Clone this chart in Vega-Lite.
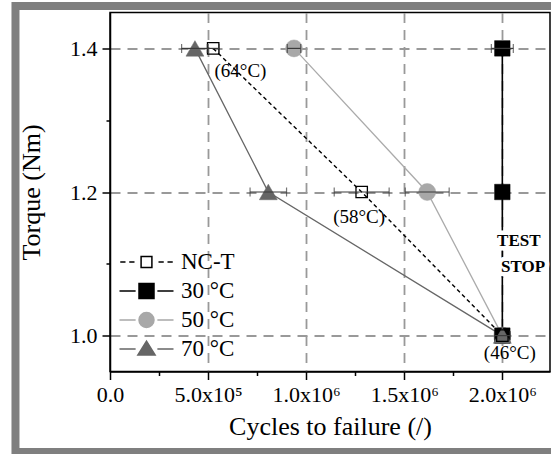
{
  "$schema": "https://vega.github.io/schema/vega-lite/v6.json",
  "width": 440,
  "height": 359,
  "autosize": "none",
  "padding": {"left": 110, "top": 12.5, "right": 1, "bottom": 82.5},
  "background": "white",
  "datasets": {
    "points": [
      {"series": "NC-T", "torque": 1.4, "cycles": 526000, "lo": 496000, "hi": 556000},
      {"series": "NC-T", "torque": 1.2, "cycles": 1283000, "lo": 1143000, "hi": 1423000},
      {"series": "NC-T", "torque": 1.0, "cycles": 2000000, "lo": 1960000, "hi": 2040000},
      {"series": "30 °C", "torque": 1.4, "cycles": 2000000, "lo": 1944000, "hi": 2056000},
      {"series": "30 °C", "torque": 1.2, "cycles": 2000000, "lo": 2000000, "hi": 2000000},
      {"series": "30 °C", "torque": 1.0, "cycles": 2000000, "lo": 2000000, "hi": 2000000},
      {"series": "50 °C", "torque": 1.4, "cycles": 938000, "lo": 904000, "hi": 972000},
      {"series": "50 °C", "torque": 1.2, "cycles": 1617000, "lo": 1505000, "hi": 1729000},
      {"series": "50 °C", "torque": 1.0, "cycles": 2000000, "lo": 2000000, "hi": 2000000},
      {"series": "70 °C", "torque": 1.4, "cycles": 433000, "lo": 365000, "hi": 501000},
      {"series": "70 °C", "torque": 1.2, "cycles": 807000, "lo": 714000, "hi": 900000},
      {"series": "70 °C", "torque": 1.0, "cycles": 2000000, "lo": 2000000, "hi": 2000000}
    ],
    "notes": [
      {"text": "(64°C)", "cycles": 665000, "torque": 1.3685, "kind": "temp"},
      {"text": "(58°C)", "cycles": 1270000, "torque": 1.1652, "kind": "temp"},
      {"text": "(46°C)", "cycles": 2038000, "torque": 0.9753, "kind": "temp"},
      {"text": "TEST", "cycles": 2084000, "torque": 1.1322, "kind": "stop"},
      {"text": "STOP", "cycles": 2106000, "torque": 1.096, "kind": "stop"}
    ],
    "frame": [
      {"x1": -481800, "x2": 2273700, "y1": 1.4591, "y2": 0.8379}
    ]
  },
  "data": {"name": "points"},
  "encoding": {
    "x": {
      "field": "cycles", "type": "quantitative", "title": "Cycles to failure (/)",
      "scale": {"domain": [0, 2243000], "nice": false, "zero": false},
      "axis": {
        "values": [0, 250000, 500000, 750000, 1000000, 1250000, 1500000, 1750000, 2000000],
        "labelExpr": "datum.value === 0 ? '0.0' : datum.value === 500000 ? '5.0x10⁵' : datum.value === 1000000 ? '1.0x10⁶' : datum.value === 1500000 ? '1.5x10⁶' : datum.value === 2000000 ? '2.0x10⁶' : ''",
        "tickSize": {"condition": {"test": "datum.value % 500000 === 0", "value": 8}, "value": 4},
        "gridOpacity": {"condition": {"test": "datum.value % 500000 === 0 && datum.value > 0", "value": 1}, "value": 0},
        "labelPadding": 5,
        "titlePadding": 8,
        "labelOverlap": false,
        "labelFlush": false
      }
    },
    "y": {
      "field": "torque", "type": "quantitative", "title": "Torque (Nm)",
      "scale": {"domain": [0.95, 1.45], "nice": false, "zero": false},
      "axis": {
        "values": [1.0, 1.1, 1.2, 1.3, 1.4],
        "labelExpr": "round(datum.value * 10) % 2 === 0 ? format(datum.value, '.1f') : ''",
        "tickSize": {"condition": {"test": "round(datum.value * 10) % 2 === 0", "value": 8}, "value": 4},
        "gridOpacity": {"condition": {"test": "round(datum.value * 10) % 2 === 0", "value": 1}, "value": 0},
        "labelPadding": 5,
        "titlePadding": 25,
        "labelOverlap": false,
        "labelFlush": false
      }
    }
  },
  "layer": [
    {
      "transform": [{"filter": "datum.series === '70 °C'"}],
      "mark": {"type": "line", "color": "#666666", "strokeWidth": 1.3},
      "encoding": {"order": {"field": "torque", "sort": "descending"}}
    },
    {
      "transform": [{"filter": "datum.series === '50 °C'"}],
      "mark": {"type": "line", "color": "#ababab", "strokeWidth": 1.3},
      "encoding": {"order": {"field": "torque", "sort": "descending"}}
    },
    {
      "transform": [{"filter": "datum.series === 'NC-T'"}],
      "mark": {"type": "line", "color": "black", "strokeWidth": 1.4, "strokeDash": [4, 3]},
      "encoding": {"order": {"field": "torque", "sort": "descending"}}
    },
    {
      "transform": [{"filter": "datum.series === '30 °C'"}],
      "mark": {"type": "line", "color": "black", "strokeWidth": 1.6},
      "encoding": {"order": {"field": "torque", "sort": "descending"}}
    },
    {
      "transform": [{"filter": "datum.series === '50 °C'"}],
      "mark": {"type": "point", "shape": "circle", "size": 289, "filled": true, "fill": "#a8a8a8", "stroke": "#a8a8a8", "strokeWidth": 0.5, "opacity": 1}
    },
    {
      "transform": [{"filter": "datum.series === '30 °C'"}],
      "mark": {"type": "point", "shape": "square", "size": 240, "filled": true, "fill": "black", "stroke": "black", "strokeWidth": 0.5, "opacity": 1}
    },
    {
      "transform": [{"filter": "datum.series === '70 °C'"}],
      "mark": {"type": "point", "shape": "triangle-up", "size": 320, "filled": true, "fill": "#666666", "stroke": "#666666", "strokeWidth": 0.5, "opacity": 1}
    },
    {
      "transform": [{"filter": "datum.series === 'NC-T'"}],
      "mark": {"type": "point", "shape": "square", "size": 130, "filled": false, "stroke": "black", "strokeWidth": 1.3, "opacity": 1}
    },
    {
      "transform": [{"filter": "datum.hi > datum.lo"}],
      "mark": {"type": "rule", "color": "#3a3a3a", "strokeWidth": 1.2},
      "encoding": {
        "x": {"field": "lo", "type": "quantitative", "title": "Cycles to failure (/)"},
        "x2": {"field": "hi"}
      }
    },
    {
      "transform": [{"filter": "datum.hi > datum.lo"}],
      "mark": {"type": "tick", "orient": "vertical", "color": "#3a3a3a", "size": 9, "thickness": 1.2},
      "encoding": {"x": {"field": "lo", "type": "quantitative", "title": "Cycles to failure (/)"}}
    },
    {
      "transform": [{"filter": "datum.hi > datum.lo"}],
      "mark": {"type": "tick", "orient": "vertical", "color": "#3a3a3a", "size": 9, "thickness": 1.2},
      "encoding": {"x": {"field": "hi", "type": "quantitative", "title": "Cycles to failure (/)"}}
    },
    {
      "data": {"name": "notes"},
      "transform": [{"filter": "datum.kind === 'temp'"}],
      "mark": {"type": "text", "font": "Liberation Serif", "fontSize": 19, "color": "black", "align": "center", "baseline": "middle"},
      "encoding": {"text": {"field": "text"}}
    },
    {
      "data": {"name": "notes"},
      "transform": [{"filter": "datum.kind === 'stop'"}],
      "mark": {"type": "text", "font": "Liberation Serif", "fontSize": 17, "fontWeight": "bold", "fill": "white", "stroke": "white", "strokeWidth": 9, "strokeJoin": "round", "align": "center", "baseline": "middle"},
      "encoding": {"text": {"field": "text"}}
    },
    {
      "data": {"name": "notes"},
      "transform": [{"filter": "datum.kind === 'stop'"}],
      "mark": {"type": "text", "font": "Liberation Serif", "fontSize": 17, "fontWeight": "bold", "color": "black", "align": "center", "baseline": "middle"},
      "encoding": {"text": {"field": "text"}}
    },
    {
      "data": {"name": "frame"},
      "mark": {"type": "rect", "fill": "transparent", "stroke": "#7f7f7f", "strokeWidth": 8, "clip": false},
      "encoding": {
        "x": {"field": "x1", "type": "quantitative", "title": "Cycles to failure (/)"},
        "x2": {"field": "x2"},
        "y": {"field": "y1", "type": "quantitative", "title": "Torque (Nm)"},
        "y2": {"field": "y2"}
      }
    },
    {
      "transform": [{"filter": "false"}],
      "mark": {"type": "point", "filled": true, "size": 225, "strokeWidth": 1.5, "opacity": 1},
      "encoding": {
        "shape": {
          "field": "series", "type": "nominal",
          "scale": {
            "domain": ["NC-T", "30 °C", "50 °C", "70 °C"],
            "range": [
              "M-3.5,0H-2.8M-2.3,0H-1.6M1.6,0H2.3M2.8,0H3.5M-0.72,-0.72H0.72V0.72H-0.72Z",
              "M-3.6,0H-1.45M1.45,0H3.6M-1,-1H1V1H-1Z",
              "M-3.6,0H-1.45M1.45,0H3.6M1,0A1,1 0 1,1 -1,0A1,1 0 1,1 1,0Z",
              "M-3.6,0H-1.45M1.45,0H3.6M0,-1.05L1.15,0.8H-1.15Z"
            ]
          },
          "legend": {"title": null, "orient": "none", "legendX": 25, "legendY": 238, "symbolSize": 225, "labelOffset": 23, "rowPadding": 5}
        },
        "fill": {
          "field": "series", "type": "nominal",
          "scale": {"domain": ["NC-T", "30 °C", "50 °C", "70 °C"], "range": ["white", "black", "#a8a8a8", "#666666"]},
          "legend": {"title": null, "orient": "none", "legendX": 25, "legendY": 238, "symbolSize": 225, "labelOffset": 23, "rowPadding": 5}
        },
        "stroke": {
          "field": "series", "type": "nominal",
          "scale": {"domain": ["NC-T", "30 °C", "50 °C", "70 °C"], "range": ["black", "black", "#a8a8a8", "#666666"]},
          "legend": {"title": null, "orient": "none", "legendX": 25, "legendY": 238, "symbolSize": 225, "labelOffset": 23, "rowPadding": 5}
        }
      }
    }
  ],
  "config": {
    "font": "Liberation Serif",
    "view": {"stroke": "black", "strokeWidth": 1.5},
    "axis": {
      "labelFont": "Liberation Serif",
      "titleFont": "Liberation Serif",
      "labelColor": "black",
      "titleColor": "black",
      "titleFontWeight": "normal",
      "labelFontSize": 22,
      "titleFontSize": 26,
      "domainColor": "black",
      "domainWidth": 1.5,
      "tickColor": "black",
      "tickWidth": 1.5,
      "gridColor": "#999999",
      "gridDash": [10, 7],
      "gridWidth": 1.8
    },
    "legend": {
      "labelFont": "Liberation Serif",
      "labelFontSize": 23,
      "labelColor": "black",
      "symbolStrokeWidth": 1.5,
      "symbolOpacity": 1,
      "padding": 0
    }
  }
}
